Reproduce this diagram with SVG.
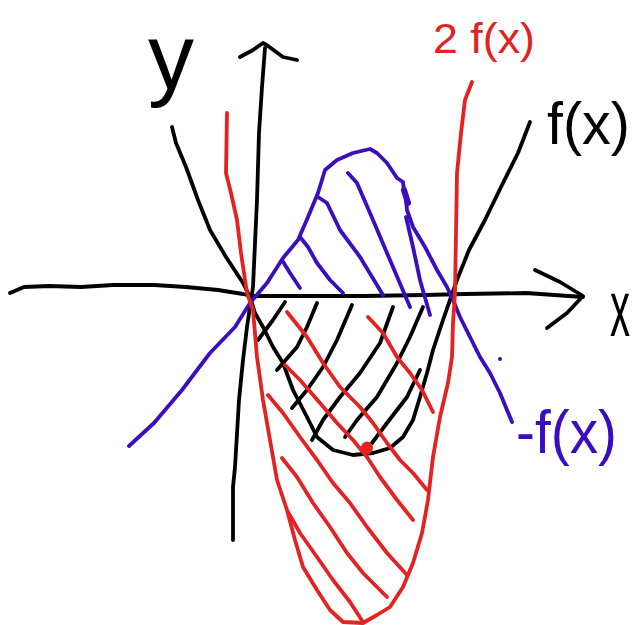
<svg xmlns="http://www.w3.org/2000/svg" width="634" height="625" viewBox="0 0 634 625">
<style>
.s{fill:none;stroke-linecap:round;stroke-linejoin:round;stroke-width:3.8}
.k{stroke:#000}
.r{stroke:#e42222}
.p{stroke:#3c0cc0}
.t{font-family:"Liberation Sans",Arial,sans-serif}
</style>
<rect width="634" height="625" fill="#fff"/>
<g id="axes">
<polyline class="s k" points="10,293 24,287 49,286 81,287 113,285 154,285 186,287 218,290 243,294 251,296 283,296 364,296 425,295 465,294 526,293 583,297"/>
<polyline class="s k" points="535,270 560,282 583,296 567,313 547,328"/>
<polyline class="s k" points="233,540 233,487 235,467 239,400 243,360 247,327 251,300 253,287 257,200 259,133 262,87 265,48"/>
<polyline class="s k" points="240,57 253,50 263,43 268,46 283,57 297,60"/>
</g>
<g id="curve-f">
<polyline class="s k" points="172,127 176,143 186,167 198,200 210,230 226,257 243,283 250,297 255,313 263,327 273,347 283,363 293,390 307,417 317,437 333,450 353,455 373,453 390,448 403,437 413,420 420,397 427,373 433,350 443,320 450,300 457,280 469,250 485,220 501,187 518,153 530,122"/>
</g>
<g id="hatch-f">
<polyline class="s k" points="258,340 273,320 285,302"/>
<polyline class="s k" points="277,370 297,347 307,327 317,303"/>
<polyline class="s k" points="292,408 307,390 323,367 337,340 352,305"/>
<polyline class="s k" points="312,440 323,420 340,397 360,373 380,343 393,307"/>
<polyline class="s k" points="345,437 357,420 377,397 397,363 410,337 423,307"/>
<polyline class="s k" points="372,443 387,423 407,397 420,370"/>
</g>
<g id="curve-neg-f">
<polyline class="s p" points="129,446 154,423 182,390 210,353 235,327 250,303 267,283 283,258 298,240 308,217 318,193 325,170 337,160 353,153 370,149 377,153 387,163 397,178 403,182 404,190 406,200 407,210 413,227 425,247 437,270 447,287 453,300 460,317 465,327 480,357 490,373 500,393 512,422"/>
<line class="p" x1="404" y1="190" x2="408" y2="203" stroke-width="6" stroke-linecap="round"/>
<circle cx="500" cy="359" r="2" fill="#3c0cc0"/>
</g>
<g id="hatch-neg-f">
<polyline class="s p" points="282,260 290,273 300,288"/>
<polyline class="s p" points="300,237 308,247 317,263 330,280 343,293"/>
<polyline class="s p" points="318,197 327,203 340,230 360,257 383,295"/>
<polyline class="s p" points="348,173 357,183 370,213 387,253 410,307"/>
<polyline class="s p" points="406,217 413,247 420,280 430,315"/>
</g>
<g id="curve-2f">
<polyline class="s r" points="227,113 226,173 231,193 237,220 241,253 247,293 253,310 257,357 263,400 270,440 277,480 287,510 295,540 303,567 317,590 330,610 343,622 363,623 377,615 390,607 403,587 413,563 422,533 428,500 433,457 440,417 448,383 452,357 453,323 455,293 456,233 457,173 461,133 465,100 472,82"/>
</g>
<g id="hatch-2f">
<polyline class="s r" points="287,312 307,337 323,363 340,387 360,407 373,423 387,443 400,460 413,473 427,490"/>
<polyline class="s r" points="368,317 383,333 397,357 410,373 422,390 433,412"/>
<polyline class="s r" points="285,365 300,380 320,403 337,423 353,440 367,457 380,477 397,500 413,520"/>
<polyline class="s r" points="268,395 283,413 300,437 317,460 333,483 350,503 367,527 387,553 407,575"/>
<polyline class="s r" points="282,458 297,477 313,503 330,527 347,553 363,573 387,597"/>
<polyline class="s r" points="288,512 300,533 317,557 333,580 350,602 363,622"/>
<ellipse cx="367" cy="448" rx="6" ry="6.5" fill="#e42222"/>
</g>
<g id="labels">
<text class="t" x="148" y="89" font-size="92" fill="#000">y</text>
<text class="t" x="433" y="53" font-size="42" fill="#e42222" textLength="102" lengthAdjust="spacingAndGlyphs">2 f(x)</text>
<text class="t" x="547" y="144" font-size="60" fill="#000" textLength="83" lengthAdjust="spacingAndGlyphs">f(x)</text>
<text class="t" x="610" y="336" font-size="40" fill="#000" transform="matrix(1,0,0,2,0,-336)">x</text>
<text class="t" x="516" y="453" font-size="62" fill="#3c0cc0" textLength="101" lengthAdjust="spacingAndGlyphs">-f(x)</text>
</g>
</svg>
